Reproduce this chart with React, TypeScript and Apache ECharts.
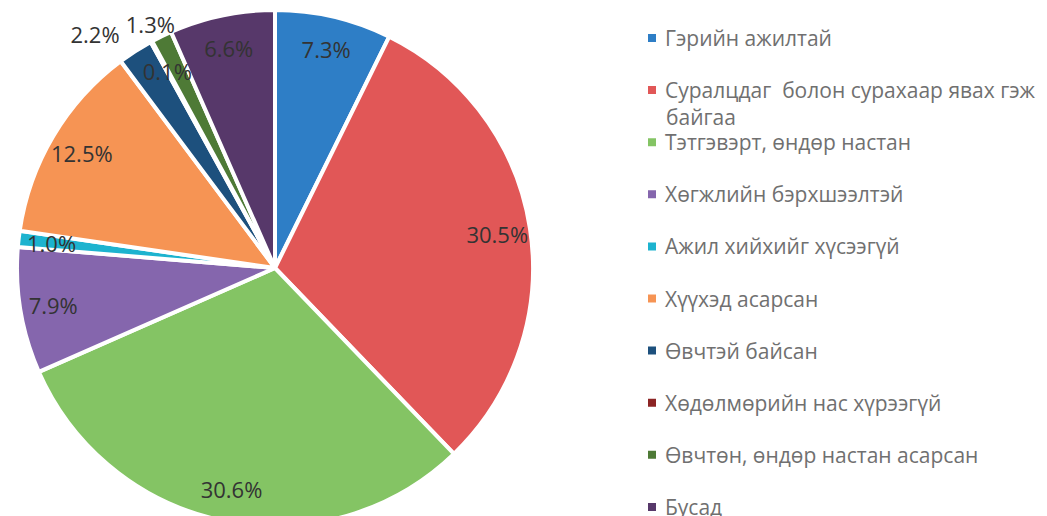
import React, { useEffect, useRef } from "react";
import * as echarts from "echarts";

const categories = [
  "Гэрийн ажилтай",
  "Суралцдаг  болон сурахаар явах гэж байгаа",
  "Тэтгэвэрт, өндөр настан",
  "Хөгжлийн бэрхшээлтэй",
  "Ажил хийхийг хүсээгүй",
  "Хүүхэд асарсан",
  "Өвчтэй байсан",
  "Хөдөлмөрийн нас хүрээгүй",
  "Өвчтөн, өндөр настан асарсан",
  "Бусад",
];
const values = [7.3, 30.5, 30.6, 7.9, 1.0, 12.5, 2.2, 0.1, 1.3, 6.6];
const colors = [
  "#2e7ec6",
  "#e15757",
  "#84c464",
  "#8566ad",
  "#1db3cf",
  "#f69454",
  "#1d507d",
  "#8c2424",
  "#4e7a36",
  "#57386a",
];
const outsideLabels = ["Өвчтэй байсан", "Өвчтөн, өндөр настан асарсан"];

const legendFirstLine: Record<string, string> = {
  "Суралцдаг  болон сурахаар явах гэж байгаа": "Суралцдаг  болон сурахаар явах гэж",
};

export default function App() {
  const ref = useRef<HTMLDivElement>(null);
  useEffect(() => {
    if (!ref.current) return;
    const chart = echarts.init(ref.current, undefined, { renderer: "svg" });
    const R = 258;
    const mainData = categories.map((name, i) => ({
      name,
      value: values[i],
      itemStyle: { color: colors[i] },
    }));
    const labelDataFor = (shown: (n: string) => boolean) =>
      categories.map((name, i) => ({
        name,
        value: values[i],
        label: { show: shown(name) },
      }));
    const legendBase = {
      orient: "vertical",
      left: 646,
      padding: 0,
      itemWidth: 10,
      itemHeight: 10,
      itemGap: 30.1,
      icon: "rect",
      selectedMode: false,
      formatter: (n: string) => legendFirstLine[n] ?? n,
      textStyle: {
        fontFamily: "Open Sans",
        fontSize: 21,
        lineHeight: 22,
        color: "#707070",
        padding: [0, 0, 0, 3],
      },
    };
    const labelSeriesBase = {
      type: "pie",
      center: [275, 268],
      startAngle: 90,
      clockwise: true,
      silent: true,
      legendHoverLink: false,
      itemStyle: { color: "transparent", borderWidth: 0 },
      labelLine: { show: false },
    };
    const labelStyle = {
      position: "inside",
      formatter: (p: any) => p.value.toFixed(1) + "%",
      fontFamily: "Open Sans",
      fontSize: 22,
      color: "#333333",
    };
    chart.setOption({
      animation: false,
      legend: [
        { ...legendBase, top: 27, data: categories.slice(0, 9) },
        { ...legendBase, top: 27 + 9 * 52.1, data: categories.slice(9) },
      ],
      graphic: [
        {
          type: "text",
          left: 666,
          top: 106,
          style: {
            text: "байгаа",
            font: '21px "Open Sans"',
            fill: "#707070",
          },
        },
      ],
      series: [
        {
          type: "pie",
          center: [275, 268],
          radius: [0, R],
          startAngle: 90,
          clockwise: true,
          silent: true,
          itemStyle: { borderColor: "#ffffff", borderWidth: 4 },
          label: { show: false },
          labelLine: { show: false },
          data: mainData,
        },
        {
          ...labelSeriesBase,
          radius: [R * 0.72, R],
          label: labelStyle,
          labelLayout: { hideOverlap: false },
          data: labelDataFor((n) => !outsideLabels.includes(n)),
        },
        {
          ...labelSeriesBase,
          radius: [0, R],
          label: { ...labelStyle, position: "outside" },
          labelLine: { show: false, length: 20, length2: 0 },
          labelLayout: { hideOverlap: false },
          data: labelDataFor((n) => n === outsideLabels[0]),
        },
        {
          ...labelSeriesBase,
          radius: [0, R],
          label: { ...labelStyle, position: "outside" },
          labelLine: { show: false, length: 14, length2: 0 },
          labelLayout: { align: "center", hideOverlap: false },
          data: labelDataFor((n) => n === outsideLabels[1]),
        },
      ],
    });
    return () => chart.dispose();
  }, []);
  return (
    <div
      ref={ref}
      style={{ position: "absolute", left: 0, top: 0, width: 1047, height: 516 }}
    />
  );
}
